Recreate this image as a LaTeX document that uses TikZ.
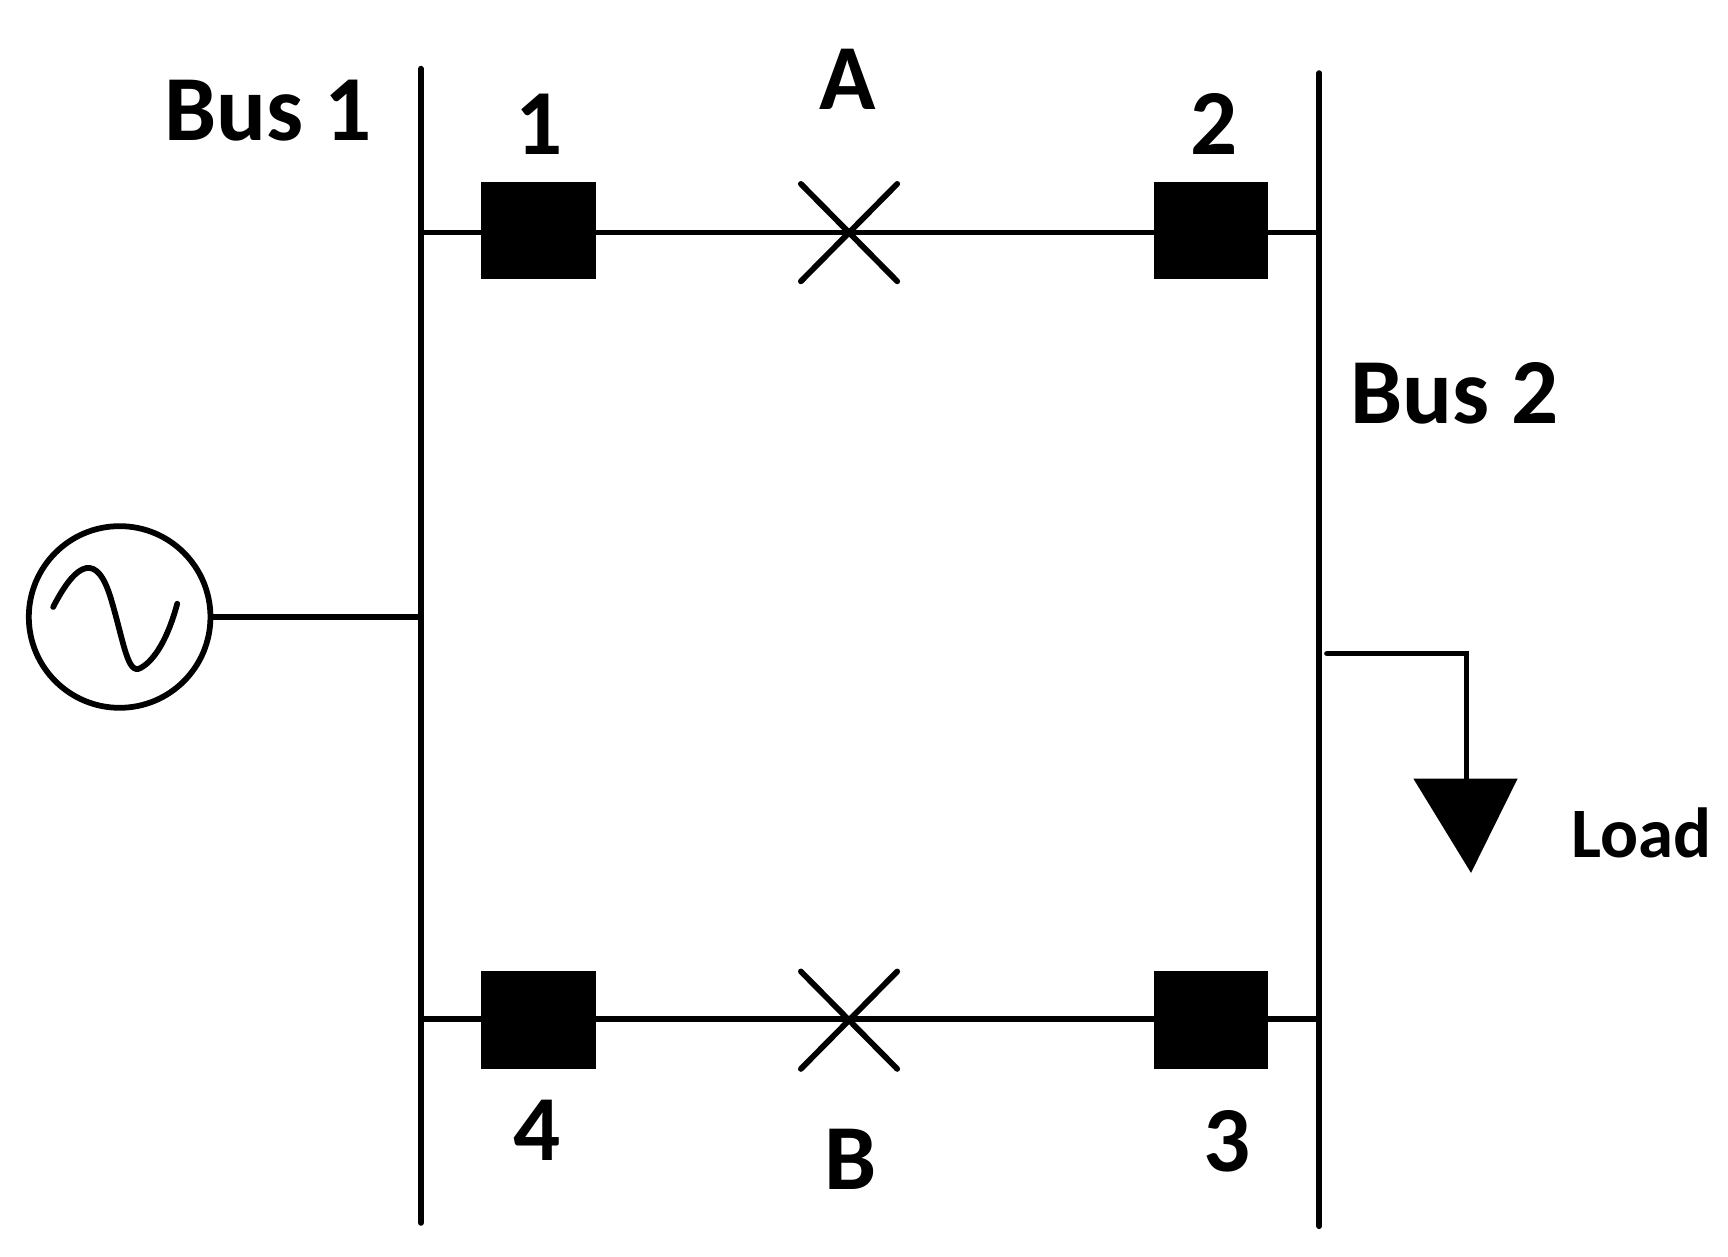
\documentclass[tikz,border=0pt]{standalone}
\usepackage{fontspec}
\setmainfont{Carlito}
\begin{document}
\begin{tikzpicture}[x=0.5pt,y=-0.5pt,line width=2.6pt,
  brk/.style={fill=black,draw=none},
  lbl/.style={font=\bfseries\fontsize{42}{46}\selectfont,inner sep=0pt},
  lbls/.style={font=\bfseries\fontsize{32}{36}\selectfont,inner sep=0pt}]
\useasboundingbox (0,0) rectangle (1560,1134);
% buses
\coordinate (b1t) at (380,62); \coordinate (b1b) at (380,1104);
\coordinate (b2t) at (1191,66); \coordinate (b2b) at (1191,1107);
\draw[line cap=round] (b1t) -- (b1b);
\draw[line cap=round] (b2t) -- (b2b);
% top line
\coordinate (t1) at (380,210); \coordinate (t2) at (1189,210);
\draw (t1) -- (t2);
\fill[brk] (434,164) rectangle (538,252);
\fill[brk] (1042,164) rectangle (1145,252);
\node (xa) at (766,210) {};
\draw[line cap=round] (723,166) -- (810,254) (810,166) -- (723,254);
% bottom line
\coordinate (u1) at (380,920); \coordinate (u2) at (1189,920);
\draw (u1) -- (u2);
\fill[brk] (434,877) rectangle (538,965);
\fill[brk] (1042,877) rectangle (1145,965);
\draw[line cap=round] (723,877) -- (810,965) (810,877) -- (723,965);
% labels
\node[lbl] (lb1) at (242,100) {Bus 1};
\node[lbl] (l1) at (487,112) {1};
\node[lbl] (lA) at (765,72) {A};
\node[lbl] (l2) at (1096,112) {2};
\node[lbl] (lb2) at (1313,355) {Bus 2};
\node[lbl] (l4) at (485,1020) {4};
\node[lbl] (lB) at (768,1047) {B};
\node[lbl] (l3) at (1108,1030) {3};
\node[lbls] (ll) at (1482,752) {Load};
% generator
\node[circle,draw,line width=2.6pt,minimum size=164*0.5pt,inner sep=0pt] (g) at (108,557) {};
\coordinate (gb) at (378,557);
\draw (g.east) -- (gb);
\draw[line cap=round] (48,548) .. controls (70,505) and (88,500) .. (100,540)
  .. controls (112,580) and (115,610) .. (127,603)
  .. controls (140,596) and (152,575) .. (160,545);
% load
\coordinate (la) at (1198,590); \coordinate (lc) at (1324,590); \coordinate (ld) at (1324,703);
\draw[line cap=round] (la) -- (lc) -- (ld);
\fill (1276,703) -- (1370,703) -- (1328,788) -- cycle;
\end{tikzpicture}
\end{document}
